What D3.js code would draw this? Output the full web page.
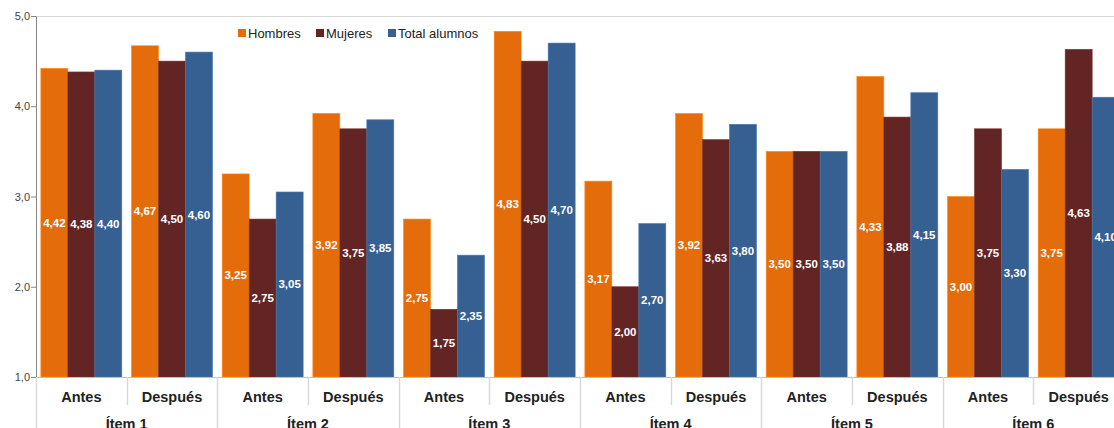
<!DOCTYPE html>
<html><head><meta charset="utf-8">
<script src="https://cdn.jsdelivr.net/npm/d3@7"></script>
<style>
body{margin:0;background:#fff;}
svg{display:block;font-family:"Liberation Sans",Arial,sans-serif;}
</style></head>
<body><svg id="c" width="1114" height="428"></svg>
<script>
const items = ["Ítem 1","Ítem 2","Ítem 3","Ítem 4","Ítem 5","Ítem 6"];
const phases = ["Antes","Después"];
const series = ["Hombres","Mujeres","Total alumnos"];
const colors = ["#E46C0A","#632523","#376092"];
const hombres = [4.42,4.67,3.25,3.92,2.75,4.83,3.17,3.92,3.50,4.33,3.00,3.75];
const mujeres = [4.38,4.50,2.75,3.75,1.75,4.50,2.00,3.63,3.50,3.88,3.75,4.63];
const total   = [4.40,4.60,3.05,3.85,2.35,4.70,2.70,3.80,3.50,4.15,3.30,4.10];
const yTicks = [1,2,3,4,5];

const svg = d3.select("#c");
const L = 36, R = 1124, T = 16, B = 377;
const cats = [];
items.forEach(it => phases.forEach(p => cats.push(it + "|" + p)));
const x = d3.scaleBand().domain(cats).range([L, R]);
const xs = d3.scaleBand().domain(series).range([0, x.bandwidth()]).paddingInner(0).paddingOuter(0.18);
const y = d3.scaleLinear().domain([1,5]).range([B, T]);
const vals = [hombres, mujeres, total];
const comma = f => v => d3.format(f)(v).replace(".", ",");

// top border
svg.append("line").attr("x1", L).attr("x2", R).attr("y1", T+0.5).attr("y2", T+0.5).attr("stroke", "#d9d9d9");

// bars
cats.forEach((c, i) => {
  const g = svg.append("g").attr("transform", `translate(${x(c)},0)`);
  series.forEach((s, j) => {
    const v = vals[j][i];
    g.append("rect").attr("x", xs(s)).attr("width", xs.bandwidth())
      .attr("y", y(v)).attr("height", y(1) - y(v))
      .attr("fill", colors[j]).attr("stroke", d3.color(colors[j]).brighter(0.6)).attr("stroke-width", 0.6);
    g.append("text").attr("x", xs(s) + xs.bandwidth()/2).attr("y", (y(v) + y(1))/2 + 4)
      .attr("text-anchor", "middle").attr("fill", "#fff").attr("font-size", 11.5).attr("font-weight", "bold")
      .text(comma(".2f")(v));
  });
});

// y axis
const ya = svg.append("g").attr("transform", `translate(${L},0)`)
  .call(d3.axisLeft(y).tickValues(yTicks).tickFormat(comma(".1f")).tickSize(5).tickSizeOuter(0));
ya.select(".domain").attr("stroke", "#868686");
ya.selectAll(".tick line").attr("stroke", "#868686");
ya.selectAll(".tick text").attr("fill", "#444").attr("font-size", 11).attr("font-family", "Liberation Sans, Arial, sans-serif").attr("x", -6);

// x axis baseline
svg.append("line").attr("x1", L).attr("x2", R).attr("y1", B+0.5).attr("y2", B+0.5).attr("stroke", "#bfbfbf");
// dividers
cats.forEach((c, i) => {
  const xx = Math.round(x(c)) + 0.5;
  const long = i % 2 === 0;
  svg.append("line").attr("x1", xx).attr("x2", xx).attr("y1", B).attr("y2", long ? 428 : 405)
    .attr("stroke", "#d9d9d9").attr("stroke-width", 1.5);
  svg.append("text").attr("x", x(c) + x.bandwidth()/2).attr("y", 402).attr("text-anchor", "middle")
    .attr("font-size", 14.5).attr("font-weight", "bold").attr("fill", "#222").text(c.split("|")[1]);
});
items.forEach(it => {
  const x0 = x(it + "|Antes"), x1 = x(it + "|Después") + x.bandwidth();
  svg.append("text").attr("x", (x0 + x1)/2).attr("y", 429).attr("text-anchor", "middle")
    .attr("font-size", 14.5).attr("font-weight", "bold").attr("fill", "#222").text(it);
});

// legend
const legX = [238, 316, 388];
series.forEach((s, j) => {
  svg.append("rect").attr("x", legX[j]).attr("y", 29).attr("width", 8).attr("height", 8).attr("fill", colors[j]);
  svg.append("text").attr("x", legX[j] + 10).attr("y", 38).attr("font-size", 13).attr("fill", "#222").text(s);
});
</script></body></html>
